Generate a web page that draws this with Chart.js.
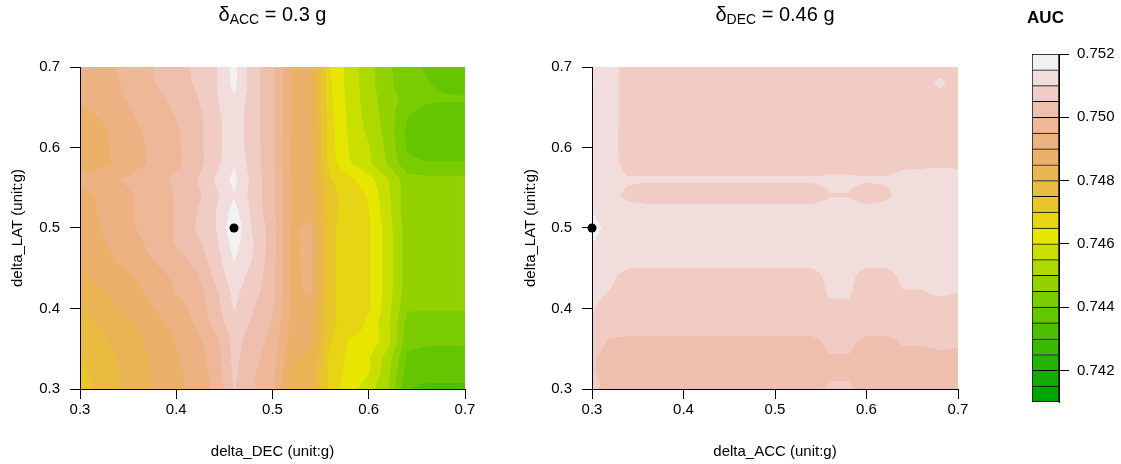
<!DOCTYPE html>
<html>
<head>
<meta charset="utf-8">
<script src="https://cdn.jsdelivr.net/npm/chart.js@4.4.0/dist/chart.umd.min.js"></script>
<style>
  body { margin: 0; background: #fff; }
  #wrap { position: relative; width: 1121px; height: 464px; overflow: hidden; }
  canvas { position: absolute; top: 0; }
</style>
</head>
<body>
<div id="wrap">
  <canvas id="decChart" width="520" height="464" style="left:0"></canvas>
  <canvas id="accChart" width="488" height="464" style="left:512px"></canvas>
  <canvas id="keyChart" width="121" height="464" style="left:1000px"></canvas>
</div>
<script>
// grid of the AUC search: delta_DEC / delta_ACC along x, delta_LAT down the rows
const decValues = [0.30, 0.32, 0.34, 0.36, 0.38, 0.40, 0.42, 0.44, 0.46, 0.48, 0.50, 0.52, 0.54, 0.56, 0.58, 0.60, 0.62, 0.64, 0.66, 0.68, 0.70];
const accValues = [0.30, 0.32, 0.34, 0.36, 0.38, 0.40, 0.42, 0.44, 0.46, 0.48, 0.50, 0.52, 0.54, 0.56, 0.58, 0.60, 0.62, 0.64, 0.66, 0.68, 0.70];
const latValues = [0.70, 0.68, 0.66, 0.64, 0.62, 0.60, 0.58, 0.56, 0.54, 0.52, 0.50, 0.48, 0.46, 0.44, 0.42, 0.40, 0.38, 0.36, 0.34, 0.32, 0.30];

// AUC with delta_ACC fixed at 0.3 g (rows follow latValues, columns follow decValues)
const aucDecLat = [
  [0.7491, 0.7493, 0.74955, 0.7498, 0.75005, 0.7503, 0.75058, 0.75093, 0.75165, 0.7507, 0.7501, 0.74895, 0.74853, 0.74655, 0.74575, 0.7452, 0.7446, 0.74415, 0.74395, 0.7438, 0.74375],
  [0.7491, 0.74925, 0.74948, 0.74975, 0.75003, 0.75028, 0.75055, 0.7509, 0.75165, 0.7507, 0.7501, 0.74895, 0.74853, 0.74655, 0.7458, 0.7452, 0.7446, 0.7442, 0.74403, 0.7439, 0.74385],
  [0.74903, 0.7492, 0.7494, 0.74965, 0.74985, 0.75015, 0.75043, 0.7509, 0.75145, 0.7507, 0.7501, 0.74895, 0.74853, 0.7466, 0.7458, 0.74525, 0.7447, 0.74435, 0.7441, 0.74405, 0.74405],
  [0.74885, 0.74903, 0.74925, 0.74955, 0.74975, 0.75003, 0.7503, 0.75085, 0.7513, 0.7507, 0.7501, 0.74895, 0.74853, 0.74665, 0.74585, 0.7453, 0.74475, 0.74403, 0.74375, 0.7437, 0.7437],
  [0.74875, 0.74885, 0.74915, 0.74945, 0.7497, 0.74993, 0.7503, 0.7508, 0.7513, 0.7507, 0.7501, 0.74895, 0.74853, 0.7467, 0.7459, 0.7454, 0.7448, 0.7439, 0.7437, 0.7437, 0.7437],
  [0.7487, 0.74885, 0.74913, 0.7494, 0.74965, 0.7499, 0.7503, 0.7508, 0.7513, 0.75075, 0.7501, 0.7489, 0.74855, 0.7467, 0.74595, 0.74555, 0.74485, 0.74395, 0.7437, 0.7437, 0.7437],
  [0.7487, 0.74885, 0.7491, 0.7494, 0.74963, 0.74988, 0.75025, 0.7508, 0.75145, 0.75075, 0.7501, 0.7489, 0.74855, 0.74675, 0.74605, 0.7456, 0.74495, 0.74415, 0.74405, 0.74405, 0.74405],
  [0.74915, 0.74928, 0.74948, 0.74968, 0.74985, 0.7501, 0.75045, 0.75103, 0.75165, 0.7508, 0.75015, 0.74895, 0.74855, 0.74705, 0.74665, 0.7462, 0.74553, 0.7447, 0.74465, 0.74465, 0.74465],
  [0.7488, 0.74905, 0.7493, 0.74955, 0.74975, 0.75003, 0.75035, 0.75085, 0.75145, 0.7508, 0.75015, 0.74895, 0.74865, 0.74715, 0.7468, 0.74645, 0.7456, 0.7447, 0.7447, 0.7447, 0.7447],
  [0.7488, 0.74903, 0.74928, 0.74955, 0.74975, 0.75003, 0.75045, 0.75095, 0.7517, 0.75085, 0.75015, 0.74898, 0.74865, 0.74715, 0.7468, 0.74653, 0.74565, 0.7447, 0.7447, 0.7447, 0.7447],
  [0.74875, 0.74898, 0.74925, 0.74953, 0.74975, 0.75003, 0.75053, 0.75093, 0.7519, 0.7509, 0.7503, 0.7489, 0.74915, 0.7471, 0.74675, 0.74655, 0.74575, 0.7447, 0.74475, 0.74475, 0.74475],
  [0.7487, 0.7489, 0.74915, 0.7494, 0.7497, 0.75003, 0.75035, 0.75083, 0.7517, 0.75103, 0.75025, 0.7489, 0.74915, 0.7471, 0.74675, 0.74655, 0.74575, 0.7447, 0.74475, 0.74475, 0.74475],
  [0.74855, 0.74875, 0.74905, 0.7493, 0.74955, 0.7498, 0.75015, 0.7507, 0.75153, 0.75095, 0.7502, 0.7489, 0.7491, 0.7471, 0.74675, 0.74655, 0.74575, 0.7447, 0.74475, 0.74475, 0.74475],
  [0.74845, 0.74863, 0.74883, 0.74903, 0.74935, 0.7496, 0.74988, 0.7506, 0.7513, 0.7508, 0.7502, 0.7489, 0.7491, 0.7471, 0.74675, 0.74655, 0.74575, 0.7447, 0.74475, 0.74475, 0.74475],
  [0.7482, 0.7484, 0.74865, 0.7489, 0.7492, 0.74953, 0.74975, 0.75035, 0.75115, 0.75065, 0.7502, 0.7489, 0.74905, 0.7471, 0.74675, 0.74655, 0.74575, 0.7447, 0.74475, 0.74475, 0.74475],
  [0.74805, 0.74825, 0.74853, 0.74875, 0.74903, 0.7493, 0.74965, 0.75025, 0.75103, 0.75053, 0.75003, 0.7489, 0.7487, 0.7471, 0.74675, 0.74655, 0.7457, 0.74455, 0.74455, 0.74455, 0.74455],
  [0.7478, 0.74805, 0.7483, 0.74853, 0.74885, 0.74918, 0.74953, 0.75015, 0.7508, 0.7504, 0.74995, 0.74885, 0.7486, 0.7471, 0.7468, 0.7464, 0.7456, 0.7443, 0.7442, 0.7442, 0.7442],
  [0.74765, 0.74785, 0.74815, 0.74843, 0.7487, 0.74903, 0.74935, 0.7498, 0.7507, 0.75025, 0.74985, 0.7488, 0.74853, 0.74703, 0.74645, 0.74635, 0.7457, 0.7442, 0.7441, 0.7441, 0.7441],
  [0.74748, 0.74775, 0.74803, 0.7483, 0.74865, 0.74895, 0.74925, 0.7497, 0.75065, 0.75015, 0.74975, 0.7486, 0.7484, 0.74685, 0.7464, 0.74605, 0.7453, 0.7439, 0.7438, 0.7438, 0.7438],
  [0.74735, 0.74768, 0.74798, 0.74828, 0.7486, 0.74888, 0.7492, 0.74965, 0.7506, 0.75005, 0.74965, 0.7484, 0.7483, 0.7468, 0.74635, 0.74603, 0.74515, 0.74375, 0.74365, 0.74365, 0.74365],
  [0.74725, 0.7476, 0.74795, 0.74825, 0.74858, 0.74885, 0.74918, 0.7496, 0.75055, 0.75003, 0.7496, 0.7483, 0.74825, 0.7468, 0.7462, 0.74575, 0.74503, 0.74353, 0.7434, 0.7434, 0.7434]
];

// AUC with delta_DEC fixed at 0.46 g (rows follow latValues, columns follow accValues)
const aucAccLat = [
  [0.7514, 0.7512, 0.7508, 0.7508, 0.7508, 0.7508, 0.7508, 0.7508, 0.7508, 0.7508, 0.7508, 0.7508, 0.7508, 0.7508, 0.7508, 0.7508, 0.7508, 0.7508, 0.7508, 0.7508, 0.7508],
  [0.75155, 0.7512, 0.7508, 0.7508, 0.7508, 0.7508, 0.7508, 0.7508, 0.7508, 0.7508, 0.7508, 0.7508, 0.7508, 0.7508, 0.7508, 0.7508, 0.7508, 0.7508, 0.7508, 0.7511, 0.7508],
  [0.7514, 0.7512, 0.7508, 0.7508, 0.7508, 0.7508, 0.7508, 0.7508, 0.7508, 0.7508, 0.7508, 0.7508, 0.7508, 0.7508, 0.7508, 0.7508, 0.7508, 0.7508, 0.7508, 0.7508, 0.7508],
  [0.75125, 0.7512, 0.7508, 0.7508, 0.7508, 0.7508, 0.7508, 0.7508, 0.7508, 0.7508, 0.7508, 0.7508, 0.7508, 0.7508, 0.7508, 0.7508, 0.7508, 0.7508, 0.7508, 0.7508, 0.7508],
  [0.75125, 0.75115, 0.7508, 0.7508, 0.7508, 0.7508, 0.7508, 0.7508, 0.7508, 0.7508, 0.7508, 0.7508, 0.7508, 0.7508, 0.7508, 0.7508, 0.7508, 0.7508, 0.7508, 0.7508, 0.7508],
  [0.75125, 0.75115, 0.7508, 0.7508, 0.7508, 0.7508, 0.7508, 0.7508, 0.7508, 0.7508, 0.7508, 0.7508, 0.7508, 0.7508, 0.7508, 0.7508, 0.7508, 0.7508, 0.7508, 0.7508, 0.7508],
  [0.7513, 0.7512, 0.7508, 0.7508, 0.7508, 0.7508, 0.7508, 0.7508, 0.7508, 0.7508, 0.7508, 0.7508, 0.7508, 0.7508, 0.7508, 0.7508, 0.7508, 0.7509, 0.75093, 0.75095, 0.75093],
  [0.75153, 0.7512, 0.75105, 0.75105, 0.75105, 0.75105, 0.75105, 0.75105, 0.75105, 0.75105, 0.75105, 0.75105, 0.75105, 0.75108, 0.75108, 0.75105, 0.75105, 0.75115, 0.75115, 0.75115, 0.75115],
  [0.7513, 0.7511, 0.7509, 0.7508, 0.7508, 0.7508, 0.7508, 0.7508, 0.7508, 0.7508, 0.7508, 0.7508, 0.7508, 0.75098, 0.75098, 0.7508, 0.7509, 0.75115, 0.75115, 0.75115, 0.75115],
  [0.75148, 0.75125, 0.7512, 0.7512, 0.7512, 0.7512, 0.7512, 0.7512, 0.7512, 0.7512, 0.7512, 0.7512, 0.7512, 0.7512, 0.7512, 0.7512, 0.7512, 0.7512, 0.7512, 0.7512, 0.7512],
  [0.7517, 0.7513, 0.75125, 0.75125, 0.75125, 0.75125, 0.75125, 0.75125, 0.75125, 0.75125, 0.75125, 0.75125, 0.75125, 0.75125, 0.75125, 0.75125, 0.75125, 0.75125, 0.75125, 0.75125, 0.75125],
  [0.75148, 0.75125, 0.75125, 0.75125, 0.75125, 0.75125, 0.75125, 0.75125, 0.75125, 0.75125, 0.75125, 0.75125, 0.75125, 0.75125, 0.75125, 0.75125, 0.75125, 0.75125, 0.75125, 0.75125, 0.75125],
  [0.7513, 0.7512, 0.75115, 0.75115, 0.75115, 0.75115, 0.75115, 0.75115, 0.75115, 0.75115, 0.75115, 0.75115, 0.75115, 0.75115, 0.75115, 0.75115, 0.75115, 0.75115, 0.75115, 0.75115, 0.75115],
  [0.7512, 0.75108, 0.75085, 0.75085, 0.75085, 0.75085, 0.75085, 0.75085, 0.75085, 0.75085, 0.75085, 0.75085, 0.75085, 0.7511, 0.7511, 0.75085, 0.75085, 0.75108, 0.75108, 0.7511, 0.7511],
  [0.7511, 0.75098, 0.7508, 0.7508, 0.7508, 0.7508, 0.7508, 0.7508, 0.7508, 0.7508, 0.7508, 0.7508, 0.7508, 0.75105, 0.75105, 0.7508, 0.7508, 0.75098, 0.75098, 0.75105, 0.75101],
  [0.75103, 0.75085, 0.7508, 0.7508, 0.7508, 0.7508, 0.7508, 0.7508, 0.7508, 0.7508, 0.7508, 0.7508, 0.7508, 0.75093, 0.75093, 0.7508, 0.7508, 0.7508, 0.7508, 0.75085, 0.7508],
  [0.75085, 0.75075, 0.75075, 0.75075, 0.75075, 0.75075, 0.75075, 0.75075, 0.75075, 0.75075, 0.75075, 0.75075, 0.75075, 0.75075, 0.75075, 0.75075, 0.75075, 0.75075, 0.75075, 0.75075, 0.75075],
  [0.7507, 0.75045, 0.7504, 0.7504, 0.7504, 0.7504, 0.7504, 0.7504, 0.7504, 0.7504, 0.7504, 0.7504, 0.7504, 0.7506, 0.7506, 0.7504, 0.7504, 0.75055, 0.75055, 0.75058, 0.75055],
  [0.75053, 0.75038, 0.75035, 0.75035, 0.75035, 0.75035, 0.75035, 0.75035, 0.75035, 0.75035, 0.75035, 0.75035, 0.75035, 0.75048, 0.75048, 0.75035, 0.75035, 0.7504, 0.7504, 0.75045, 0.75043],
  [0.75055, 0.75035, 0.75035, 0.75035, 0.75035, 0.75035, 0.75035, 0.75035, 0.75035, 0.75035, 0.75035, 0.75035, 0.75035, 0.75045, 0.75045, 0.75035, 0.75035, 0.75035, 0.75035, 0.75035, 0.75035],
  [0.75065, 0.75035, 0.75035, 0.75035, 0.75035, 0.75035, 0.75035, 0.75035, 0.75035, 0.75035, 0.75035, 0.75035, 0.75035, 0.75055, 0.75055, 0.75035, 0.75035, 0.75035, 0.75035, 0.75035, 0.75035]
];

// contour breaks shown in the colour key
const aucLevels = [0.741, 0.7415, 0.742, 0.7425, 0.743, 0.7435, 0.744, 0.7445, 0.745, 0.7455, 0.746, 0.7465,
                   0.747, 0.7475, 0.748, 0.7485, 0.749, 0.7495, 0.750, 0.7505, 0.751, 0.7515, 0.752];
const axisTicks = [0.3, 0.4, 0.5, 0.6, 0.7];
const keyTicks = [0.742, 0.744, 0.746, 0.748, 0.750, 0.752];

// best setting in each panel
const bestDec = { x: 0.46, y: 0.5 };
const bestAcc = { x: 0.3, y: 0.5 };

const FONT = '"Liberation Sans", Arial, Helvetica, sans-serif';
Chart.defaults.font.family = FONT;
Chart.defaults.color = '#000';

function hsv(h, s, v) {
  const i = Math.floor(h * 6) % 6, f = h * 6 - Math.floor(h * 6);
  const p = v * (1 - s), q = v * (1 - f * s), t = v * (1 - (1 - f) * s);
  const rgb = [[v, t, p], [q, v, p], [p, v, t], [p, q, v], [t, p, v], [v, p, q]][i];
  return rgb.map(c => Math.round(c * 255));
}

// same ramp as R's terrain.colors()
function terrainColors(n) {
  const k = Math.floor(n / 2), out = [];
  for (let i = 0; i < k; i++) {
    const t = k > 1 ? i / (k - 1) : 0;
    out.push(hsv(1 / 3 - t / 6, 1, 0.65 + 0.25 * t));
  }
  const m = n - k;
  for (let j = 1; j <= m; j++) {
    const t = j / m;
    out.push(hsv(1 / 6 - t / 6, 1 - t, 0.9 + 0.05 * t));
  }
  return out;
}

const palette = terrainColors(aucLevels.length - 1);

function levelIndex(v) {
  for (let k = aucLevels.length - 2; k > 0; k--) {
    if (v >= aucLevels[k]) return k;
  }
  return 0;
}

// fills the plot area cell by cell, bilinear inside each cell, banded by aucLevels
function contourPlugin(xs, ys, grid) {
  return {
    id: 'contourFill',
    beforeDraw(chart) {
      const { ctx, chartArea: area, scales: { x: sx, y: sy } } = chart;
      const left = Math.round(area.left), top = Math.round(area.top);
      const w = Math.round(area.right) - left, h = Math.round(area.bottom) - top;
      const img = ctx.createImageData(w, h);
      for (let j = 0; j < ys.length - 1; j++) {
        const ya = sy.getPixelForValue(ys[j]), yb = sy.getPixelForValue(ys[j + 1]);
        for (let i = 0; i < xs.length - 1; i++) {
          const xa = sx.getPixelForValue(xs[i]), xb = sx.getPixelForValue(xs[i + 1]);
          const z00 = grid[j][i], z01 = grid[j][i + 1], z10 = grid[j + 1][i], z11 = grid[j + 1][i + 1];
          for (let py = Math.round(ya); py < Math.round(yb); py++) {
            if (py < top || py >= top + h) continue;
            const ty = (py + 0.5 - ya) / (yb - ya);
            for (let px = Math.round(xa); px < Math.round(xb); px++) {
              if (px < left || px >= left + w) continue;
              const tx = (px + 0.5 - xa) / (xb - xa);
              const v = (z00 * (1 - tx) + z01 * tx) * (1 - ty) + (z10 * (1 - tx) + z11 * tx) * ty;
              const c = palette[levelIndex(v)];
              const o = ((py - top) * w + (px - left)) * 4;
              img.data[o] = c[0];
              img.data[o + 1] = c[1];
              img.data[o + 2] = c[2];
              img.data[o + 3] = 255;
            }
          }
        }
      }
      ctx.putImageData(img, left, top);
    }
  };
}

// centred heading made of runs with their own font and drop (for subscripts)
function headingPlugin(parts, baseline) {
  return {
    id: 'heading',
    afterDraw(chart) {
      const { ctx, chartArea } = chart;
      ctx.save();
      ctx.fillStyle = '#000';
      ctx.textBaseline = 'alphabetic';
      ctx.textAlign = 'left';
      const widths = parts.map(p => { ctx.font = p.font; return ctx.measureText(p.text).width; });
      let x = (chartArea.left + chartArea.right) / 2 - widths.reduce((a, b) => a + b, 0) / 2;
      parts.forEach((p, i) => {
        ctx.font = p.font;
        ctx.fillText(p.text, x, baseline + (p.drop || 0));
        x += widths[i];
      });
      ctx.restore();
    }
  };
}

function axisGrid() {
  return { drawOnChartArea: false, drawTicks: true, tickLength: 10, color: '#000', tickColor: '#000', lineWidth: 1 };
}

function panelChart(canvasId, xs, grid, best, xTitle, subscript, rest, yTitlePad, rightPad) {
  return new Chart(document.getElementById(canvasId), {
    type: 'scatter',
    data: {
      datasets: [{
        data: [best],
        pointRadius: 4.5,
        pointHoverRadius: 4.5,
        backgroundColor: '#000',
        borderWidth: 0,
        clip: false
      }]
    },
    options: {
      responsive: false,
      animation: false,
      events: [],
      layout: { padding: { left: 0, top: 67, right: rightPad, bottom: 0 } },
      plugins: { legend: { display: false }, tooltip: { enabled: false } },
      scales: {
        x: {
          type: 'linear', min: 0.3, max: 0.7,
          afterBuildTicks: s => { s.ticks = axisTicks.map(v => ({ value: v })); },
          afterFit: s => { s.height = 75; },
          grid: axisGrid(),
          border: { display: true, color: '#000', width: 1 },
          ticks: { autoSkip: false, maxRotation: 0, padding: 2, font: { size: 15 }, callback: v => v.toFixed(1) },
          title: { display: true, text: xTitle, font: { size: 15 }, padding: { top: 0, bottom: 3 } }
        },
        y: {
          type: 'linear', min: 0.3, max: 0.7,
          afterBuildTicks: s => { s.ticks = axisTicks.map(v => ({ value: v })); },
          afterFit: s => { s.width = 80; },
          grid: axisGrid(),
          border: { display: true, color: '#000', width: 1 },
          ticks: { autoSkip: false, padding: 10, font: { size: 15 }, callback: v => v.toFixed(1) },
          title: { display: true, text: 'delta_LAT (unit:g)', font: { size: 15 }, padding: { top: yTitlePad, bottom: 0 } }
        }
      }
    },
    plugins: [
      contourPlugin(xs, latValues, grid),
      headingPlugin([
        { text: 'δ', font: `20px ${FONT}` },
        { text: subscript, font: `14px ${FONT}`, drop: 3 },
        { text: rest, font: `20px ${FONT}` }
      ], 21)
    ]
  });
}

panelChart('decChart', decValues, aucDecLat, bestDec, 'delta_DEC (unit:g)', 'ACC', ' = 0.3 g', 9, 55);
panelChart('accChart', accValues, aucAccLat, bestAcc, 'delta_ACC (unit:g)', 'DEC', ' = 0.46 g', 10, 42);

// colour key: one floating bar per contour band
new Chart(document.getElementById('keyChart'), {
  type: 'bar',
  data: {
    labels: ['AUC'],
    datasets: palette.map((c, k) => ({
      data: [[aucLevels[k], aucLevels[k + 1]]],
      backgroundColor: `rgb(${c[0]}, ${c[1]}, ${c[2]})`,
      borderColor: '#000',
      borderWidth: { top: 1, left: 1, right: 1, bottom: k === 0 ? 1 : 0 },
      borderSkipped: false,
      grouped: false,
      barPercentage: 1,
      categoryPercentage: 1
    }))
  },
  options: {
    responsive: false,
    animation: false,
    events: [],
    layout: { padding: { left: 32, top: 54, right: 0, bottom: 62 } },
    plugins: { legend: { display: false }, tooltip: { enabled: false } },
    scales: {
      x: { display: false },
      y: {
        position: 'right', min: 0.741, max: 0.752,
        afterBuildTicks: s => { s.ticks = keyTicks.map(v => ({ value: v })); },
        afterFit: s => { s.width = 62; },
        grid: axisGrid(),
        border: { display: true, color: '#000', width: 1 },
        ticks: { autoSkip: false, padding: 8, font: { size: 15 }, callback: v => v.toFixed(3) }
      }
    }
  },
  plugins: [headingPlugin([{ text: 'AUC', font: `bold 17px ${FONT}` }], 23)]
});
</script>
</body>
</html>
